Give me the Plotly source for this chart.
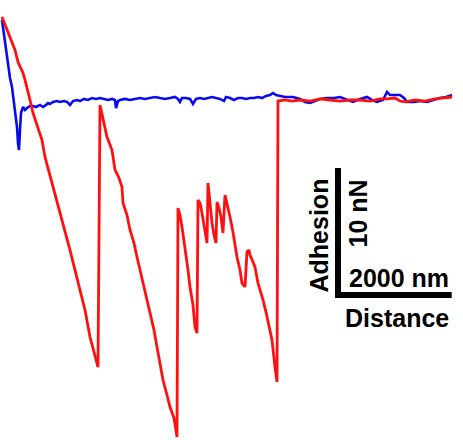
import plotly.graph_objects as go

# Blue curve (approach): distance (nm), force (nN)
blue_x = [36, 90, 144, 180, 216, 270, 306, 324, 342, 360, 378, 414, 450, 486, 540, 594, 648, 720, 774, 828,
          864, 900, 954, 1026, 1080, 1152, 1206, 1260, 1314, 1386, 1440, 1512, 1584, 1656, 1728, 1800, 1872, 1944,
          2016, 2070, 2088, 2124, 2160, 2250, 2340, 2430, 2520, 2610, 2700, 2790, 2880, 2970, 3060, 3150, 3204,
          3240, 3276, 3348, 3420, 3474, 3528, 3600, 3672, 3744, 3816, 3888, 3960, 4032, 4068, 4140, 4212, 4284,
          4356, 4428, 4500, 4572, 4644, 4716, 4788, 4860, 4914, 4968, 5040, 5130, 5274, 5400, 5490, 5580, 5670,
          5760, 5886, 6012, 6120, 6228, 6354, 6480, 6606, 6696, 6786, 6894, 6966, 7020, 7110, 7200, 7272, 7326,
          7452, 7560, 7686, 7794, 7920, 8028, 8136]
blue_y = [6.15, 4.38, 2.54, 1.69, 1.0, -0.77, -2.08, -3.31, -3.85, -2.31, -1.0, -0.54, -0.77, -0.62, -0.46, -0.46,
          -0.54, -0.38, -0.54, -0.38, -0.23, -0.31, -0.15, -0.08, -0.15, -0.08, -0.15, -0.38, -0.08, 0, -0.08, 0.08,
          0, 0.15, 0.08, 0.15, 0.08, 0, 0.08, 0, -0.62, -0.08, 0, 0.08, 0, 0.08, 0.15, 0.08, 0.15, 0.23, 0.15, 0.08,
          0.15, 0.23, 0.08, -0.15, 0.15, 0.15, 0.08, -0.31, 0.08, 0.15, 0.08, 0.15, 0.23, 0.15, 0.08, -0.08, 0.23,
          0.15, 0, 0.15, 0.15, 0.08, 0.15, 0.15, 0.23, 0.15, 0.31, 0.38, 0.54, 0.38, 0.31, 0.23, 0.23, 0.08, -0.15,
          -0.23, -0.08, 0.08, 0.15, 0.15, 0.23, 0.08, -0.15, 0.08, 0.23, 0, -0.15, 0, 0.62, 0.38, 0.38, 0.38, 0.15,
          -0.15, -0.15, -0.08, -0.15, 0, 0.15, 0.23, 0.38]

# Red curve (retraction): distance (nm), force (nN)
red_x = [36, 90, 144, 180, 234, 270, 324, 378, 414, 450, 486, 540, 594, 648, 684, 756, 810, 900, 990, 1080,
         1170, 1260, 1350, 1440, 1530, 1620, 1692, 1764, 1800, 1854, 1890, 1926, 2016, 2070, 2142, 2196, 2214,
         2286, 2340, 2412, 2466, 2520, 2574, 2646, 2700, 2772, 2826, 2880, 2934, 3006, 3060, 3132, 3186, 3204,
         3240, 3276, 3312, 3330, 3384, 3420, 3474, 3510, 3546, 3564, 3600, 3636, 3672, 3690, 3726, 3744, 3780,
         3816, 3852, 3888, 3906, 3942, 3978, 4014, 4050, 4086, 4140, 4194, 4230, 4266, 4320, 4356, 4410, 4446,
         4482, 4500, 4554, 4590, 4644, 4698, 4734, 4788, 4842, 4896, 4950, 4986, 5004, 5130, 5256, 5400, 5580,
         5760, 5940, 6120, 6300, 6480, 6660, 6840, 6966, 7110, 7200, 7290, 7470, 7650, 7830, 8010, 8136]
red_y = [6.38, 5.77, 5.31, 4.85, 4.23, 3.85, 2.92, 2.46, 2.08, 1.54, 1.0, 0, -1.0, -1.69, -2.31, -3.08, -4.38,
         -5.77, -7.31, -8.62, -10.15, -11.54, -13.08, -14.62, -16.15, -18.23, -19.38, -20.54, -0.38, -1.54, -2.15,
         -2.85, -3.85, -5.38, -6.0, -6.69, -7.92, -8.85, -10.0, -11.0, -12.08, -13.08, -14.08, -15.23, -16.38,
         -17.69, -19.0, -20.15, -21.54, -22.69, -23.62, -24.46, -25.92, -8.31, -8.85, -9.77, -10.77, -11.54,
         -13.08, -14.38, -15.77, -17.46, -17.92, -7.69, -7.92, -8.69, -9.62, -10.23, -11.0, -6.38, -8.08, -9.46,
         -10.38, -11.0, -7.85, -8.31, -9.0, -10.23, -7.31, -7.92, -9.0, -10.15, -11.15, -12.08, -13.08, -14.08,
         -14.38, -11.69, -11.54, -11.92, -12.46, -12.85, -14.08, -14.77, -15.38, -16.31, -17.31, -18.46, -20.54,
         -21.69, -0.08, 0, -0.08, 0, -0.08, 0.08, 0, -0.08, 0, 0, -0.08, 0.08, 0.08, 0.15, -0.08, -0.15, 0, -0.08,
         0.08, 0.15, 0.23]

# Scale bar
bar_x0 = 6084        # nm, vertical bar position
bar_x_left = 6030
bar_x_right = 8130
bar_y_top = -5.23    # nN
bar_y_bottom = -15.23
bar_y_h = -15.0
force_label = "10 nN"
dist_label = "2000 nm"

fig = go.Figure()
fig.add_trace(go.Scatter(x=blue_x, y=blue_y, mode="lines",
                         line=dict(color="#0a0aee", width=2.6), hoverinfo="skip"))
fig.add_trace(go.Scatter(x=red_x, y=red_y, mode="lines",
                         line=dict(color="#ff1010", width=2.8), hoverinfo="skip"))

fig.add_shape(type="line", x0=bar_x0, x1=bar_x0, y0=bar_y_top, y1=bar_y_bottom,
              line=dict(color="black", width=6), xref="x", yref="y")
fig.add_shape(type="line", x0=bar_x_left, x1=bar_x_right, y0=bar_y_h, y1=bar_y_h,
              line=dict(color="black", width=6), xref="x", yref="y")

font = dict(family="Liberation Sans, Arial, sans-serif", size=25, color="black")
fig.add_annotation(x=6426, y=-8.73, text="<b>" + force_label + "</b>", textangle=-90,
                   showarrow=False, font=font, xanchor="center", yanchor="middle")
fig.add_annotation(x=5733, y=-10.46, text="<b>Adhesion</b>", textangle=-90,
                   showarrow=False, font=font, xanchor="center", yanchor="middle")
fig.add_annotation(x=7182, y=-13.69, text="<b>" + dist_label + "</b>",
                   showarrow=False, font=font, xanchor="center", yanchor="middle")
fig.add_annotation(x=7146, y=-16.77, text="<b>Distance</b>",
                   showarrow=False, font=font, xanchor="center", yanchor="middle")

fig.update_layout(width=463, height=440, margin=dict(l=0, r=0, t=0, b=0),
                  paper_bgcolor="white", plot_bgcolor="white", showlegend=False)
fig.update_xaxes(range=[0, 8334], visible=False)
fig.update_yaxes(range=[-26.15, 7.69], visible=False)

fig.write_html("out.html", config={"displayModeBar": False})
